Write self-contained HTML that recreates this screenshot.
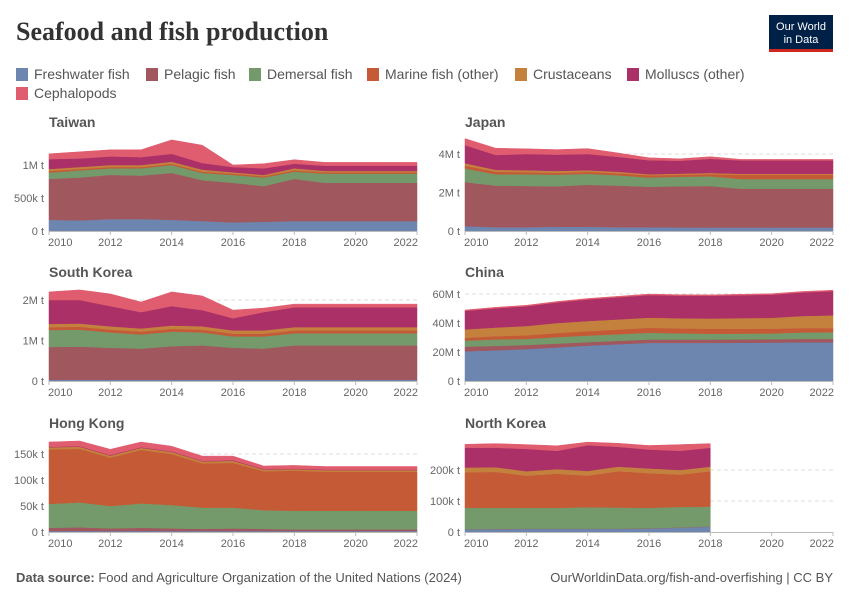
<!DOCTYPE html>
<html><head><meta charset="utf-8">
<style>
body{margin:0;background:#fff;width:850px;height:600px;overflow:hidden;font-family:"Liberation Sans",sans-serif;}
svg text{font-family:"Liberation Sans",sans-serif;}
</style></head><body>
<svg id="chart" width="850" height="600" xmlns="http://www.w3.org/2000/svg">
<text x="16" y="40" font-family="Liberation Serif, serif" font-weight="bold" font-size="26" fill="#333" style="font-family:'Liberation Serif',serif">Seafood and fish production</text>
<g>
<rect x="769" y="15" width="64" height="35" fill="#002147"/>
<rect x="769" y="49" width="64" height="3" fill="#ce261e"/>
<text x="801" y="30" fill="#fff" font-size="11" text-anchor="middle">Our World</text>
<text x="801" y="43" fill="#fff" font-size="11" text-anchor="middle">in Data</text>
</g>
<g id="legend"></g>
<g id="panels"></g>
<text x="16" y="582" font-size="13" fill="#555"><tspan font-weight="bold">Data source:</tspan> Food and Agriculture Organization of the United Nations (2024)</text>
<text x="833" y="582" font-size="13" fill="#555" text-anchor="end">OurWorldinData.org/fish-and-overfishing | CC BY</text>
</svg>
<script>
const years=[2010,2011,2012,2013,2014,2015,2016,2017,2018,2019,2020,2021,2022];
const seriesNames=["Freshwater fish","Pelagic fish","Demersal fish","Marine fish (other)","Crustaceans","Molluscs (other)","Cephalopods"];
const seriesColors=["#6d86b0","#a0575e","#74996a","#c45b36","#c4813e","#ab3067","#e05c6f"];
// Taiwan (million t)
const twFresh=[.17,.16,.18,.18,.17,.15,.13,.14,.15,.15,.15,.15,.15];
const twPelagic=[.62,.65,.67,.66,.71,.62,.60,.54,.64,.58,.58,.58,.58];
const twDemersal=[.095,.11,.10,.11,.12,.11,.12,.13,.11,.14,.14,.14,.14];
const twMarine=[.025,.02,.02,.02,.02,.02,.02,.02,.02,.02,.02,.02,.02];
const twCrust=[.03,.03,.03,.03,.03,.03,.02,.02,.03,.02,.02,.02,.02];
const twMoll=[.15,.13,.13,.12,.12,.10,.08,.10,.07,.08,.08,.08,.08];
const twCeph=[.08,.10,.10,.11,.21,.27,.03,.07,.06,.05,.05,.05,.05];
// Japan (million t)
const jpFresh=[.25,.2,.2,.22,.22,.2,.2,.18,.18,.18,.18,.18,.18];
const jpPelagic=[2.29,2.16,2.14,2.1,2.18,2.16,2.1,2.14,2.16,2.02,2.02,2.02,2.02];
const jpDemersal=[.71,.59,.61,.61,.57,.54,.48,.5,.5,.5,.5,.5,.5];
const jpMarine=[.15,.13,.11,.09,.11,.1,.12,.1,.11,.22,.22,.22,.22];
const jpCrust=[.12,.1,.1,.1,.08,.08,.05,.06,.07,.05,.05,.05,.05];
const jpMoll=[.94,.77,.84,.85,.84,.77,.73,.67,.73,.7,.7,.7,.7];
const jpCeph=[.34,.35,.27,.26,.28,.2,.12,.1,.11,.05,.05,.05,.05];
// South Korea (million t)
const krFresh=[.03,.03,.03,.03,.03,.03,.03,.03,.03,.03,.03,.03,.03];
const krPelagic=[.81,.82,.79,.77,.83,.85,.79,.77,.85,.85,.85,.85,.85];
const krDemersal=[.42,.42,.38,.35,.36,.32,.28,.30,.30,.30,.30,.30,.30];
const krMarine=[.07,.07,.07,.07,.07,.07,.07,.07,.07,.07,.07,.07,.07];
const krCrust=[.08,.08,.08,.08,.08,.08,.08,.08,.08,.08,.08,.08,.08];
const krMoll=[.59,.58,.5,.4,.48,.4,.3,.45,.49,.49,.49,.49,.49];
const krCeph=[.2,.25,.3,.25,.35,.35,.2,.1,.08,.08,.08,.08,.08];
// China (million t)
const cnFresh=[20.5,21.2,22,23.2,24.4,25.4,26.3,26.3,26.3,26.4,26.5,26.7,26.7];
const cnPelagic=[3.2,3,2.8,2.6,2.4,2.3,2.3,2.3,2.3,2.3,2.3,2.3,2.3];
const cnDemersal=[4.2,4.5,4.2,4.5,4.6,4.6,4.7,4.3,4,4,4,4.5,4.7];
const cnMarine=[1.9,2.2,2.5,2.8,3,3.2,3.4,3.4,3.5,3.4,3.3,3,2.8];
const cnCrust=[5.8,6,6.4,6.9,7,7,7,7,7,7.3,7.5,8.3,8.8];
const cnMoll=[12.8,13.3,13.7,14.2,14.9,15.3,15.6,15.6,15.7,15.8,16,16.3,16.7];
const cnCeph=[.6,.6,.6,.6,.6,.6,.6,.6,.6,.6,.6,.6,.6];
// Hong Kong (thousand t)
const hkFresh=[2,2,2,2,2,2,2,2,2,2,2,2,2];
const hkPelagic=[6,7,5,6,5,4,5,4,3,3,3,3,3];
const hkDemersal=[46,48,43,47,45,41,40,36,36,36,36,36,36];
const hkMarine=[105,103,93,103,98,85,86,75,77,75,75,75,75];
const hkCrust=[4,4,4,4,4,4,4,3,3,3,3,3,3];
const hkMoll=[1,1,1,1,1,1,1,1,1,1,1,1,1];
const hkCeph=[9,10,11,10,10,9,8,6,6,6,6,6,6];
// North Korea (thousand t), data only to 2018
const nkFresh=[8,9,10,10,10,10,11,14,17];
const nkPelagic=[1,1,1,1,1,1,1,1,1];
const nkDemersal=[69,68,67,67,69,68,66,66,64];
const nkMarine=[115,116,104,110,102,117,112,104,114];
const nkCrust=[15,15,14,15,15,15,15,15,15];
const nkMoll=[64,63,72,59,83,64,61,62,61];
const nkCeph=[11,13,14,16,10,11,13,20,13];
const twTicks=["0 t","500k t","1M t"], jpTicks=["0 t","2M t","4M t"], krTicks=["0 t","1M t","2M t"],
      cnTicks=["0 t","20M t","40M t","60M t"], hkTicks=["0 t","50k t","100k t","150k t"], nkTicks=["0 t","100k t","200k t"];
const twTickVals=[0,.5,1], jpTickVals=[0,2,4], krTickVals=[0,1,2], cnTickVals=[0,20,40,60], hkTickVals=[0,50,100,150], nkTickVals=[0,100,200];
const xTickYears=[2010,2012,2014,2016,2018,2020,2022];

const NS="http://www.w3.org/2000/svg";
function mk(tag,attrs,parent){const e=document.createElementNS(NS,tag);for(const k in attrs)e.setAttribute(k,attrs[k]);parent.appendChild(e);return e;}

// legend
const lg=document.getElementById('legend');
const legendPos=[[16,74],[146,74],[249,74],[367,74],[515,74],[627,74],[16,93]];
seriesNames.forEach((n,i)=>{
  const g=mk('g',{},lg);
  
  
  mk('rect',{x:legendPos[i][0],y:legendPos[i][1]-6,width:12,height:13,fill:seriesColors[i]},g);
  const t=mk('text',{x:legendPos[i][0]+18,y:legendPos[i][1]+5,'font-size':14,fill:'#555'},g);t.textContent=n;
});

const panels=[
 {name:"Taiwan",x0:49,x1:417,base:231,top:165,tickMax:1,ticks:twTicks,tickVals:twTickVals,data:[twFresh,twPelagic,twDemersal,twMarine,twCrust,twMoll,twCeph]},
 {name:"Japan",x0:465,x1:833,base:231,top:154,tickMax:4,ticks:jpTicks,tickVals:jpTickVals,data:[jpFresh,jpPelagic,jpDemersal,jpMarine,jpCrust,jpMoll,jpCeph]},
 {name:"South Korea",x0:49,x1:417,base:381,top:300,tickMax:2,ticks:krTicks,tickVals:krTickVals,data:[krFresh,krPelagic,krDemersal,krMarine,krCrust,krMoll,krCeph]},
 {name:"China",x0:465,x1:833,base:381,top:294,tickMax:60,ticks:cnTicks,tickVals:cnTickVals,data:[cnFresh,cnPelagic,cnDemersal,cnMarine,cnCrust,cnMoll,cnCeph]},
 {name:"Hong Kong",x0:49,x1:417,base:532,top:454,tickMax:150,ticks:hkTicks,tickVals:hkTickVals,data:[hkFresh,hkPelagic,hkDemersal,hkMarine,hkCrust,hkMoll,hkCeph]},
 {name:"North Korea",x0:465,x1:833,base:532,top:470,tickMax:200,ticks:nkTicks,tickVals:nkTickVals,data:[nkFresh,nkPelagic,nkDemersal,nkMarine,nkCrust,nkMoll,nkCeph]}
];
const root=document.getElementById('panels');
panels.forEach(p=>{
  const slug=p.name.toLowerCase().replace(/ /g,'-');
  const g=mk('g',{},root);
  
  
  const xS=y=>p.x0+(y-years[0])/(years[years.length-1]-years[0])*(p.x1-p.x0);
  const yS=v=>p.base-v/p.tickMax*(p.base-p.top);
  const tt=mk('text',{x:p.x0,y:p.top-36+(p.name==="Taiwan"||p.name==="Japan"?0:0),'font-size':14,'font-weight':'bold',fill:'#555'},g);
  tt.setAttribute('x',p.x0);tt.setAttribute('y',p.base-104);
  tt.textContent=p.name;
  
  
  // grid + y ticks
  p.tickVals.forEach((v,i)=>{
    const y=yS(v);
    if(v>0){const l=mk('line',{x1:p.x0,x2:p.x1,y1:y,y2:y,stroke:'#ddd','stroke-dasharray':'4,3'},g);
      }
    const t=mk('text',{x:p.x0-5,y:y+4,'font-size':11,fill:'#666','text-anchor':'end'},g);
    t.textContent=p.ticks[i];
    
    
  });
  // stacked areas
  const n=p.data[0].length;
  let lower=new Array(n).fill(0);
  p.data.forEach((arr,si)=>{
    const upper=arr.map((v,i)=>lower[i]+v);
    let d='';
    for(let i=0;i<n;i++)d+=(i?'L':'M')+xS(years[i]).toFixed(1)+','+yS(upper[i]).toFixed(1);
    for(let i=n-1;i>=0;i--)d+='L'+xS(years[i]).toFixed(1)+','+yS(lower[i]).toFixed(1);
    const a=mk('path',{d:d+'Z',fill:seriesColors[si],stroke:seriesColors[si],'stroke-width':0.5},g);
    
    
    lower=upper;
  });
  // x axis
  const ax=mk('line',{x1:p.x0,x2:p.x1,y1:p.base+0.5,y2:p.base+0.5,stroke:'#bbb','stroke-width':1},g);
  
  xTickYears.forEach((yr,i)=>{
    const x=xS(yr);
    mk('line',{x1:x,x2:x,y1:p.base,y2:p.base+4,stroke:'#bbb'},g);
    const t=mk('text',{x:x,y:p.base+15,'font-size':11,fill:'#666','text-anchor':i===0?'start':(i===xTickYears.length-1?'end':'middle')},g);
    t.setAttribute('x',i===0?x-1:(i===xTickYears.length-1?x+1:x));
    t.textContent=yr;
    
    
  });
});
</script>
</body></html>
